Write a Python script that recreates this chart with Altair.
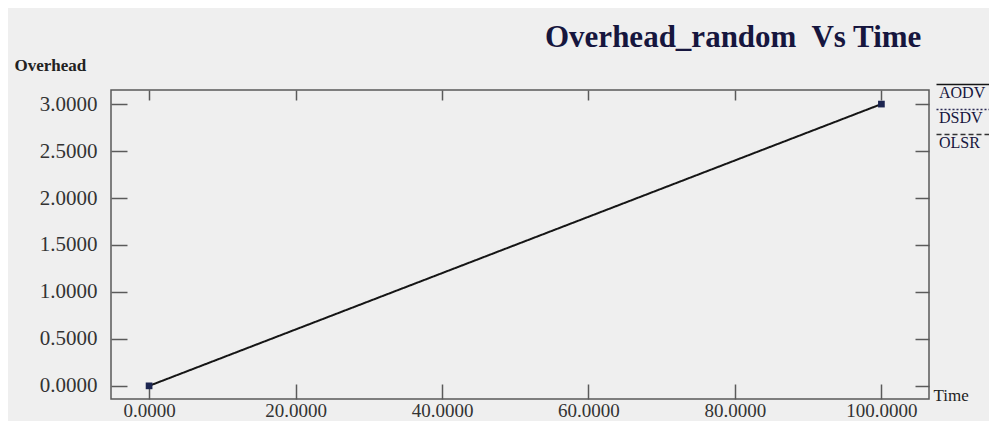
import altair as alt
import pandas as pd

# ---- data ----
times = [0.0, 100.0]
overhead = [0.0, 3.0]
series = ["AODV", "AODV"]
protocols = ["AODV", "DSDV", "OLSR"]
x_ticks = [0, 20, 40, 60, 80, 100]
y_ticks = [0.0, 0.5, 1.0, 1.5, 2.0, 2.5, 3.0]

df = pd.DataFrame({"Time": times, "Overhead": overhead, "Protocol": series})

SERIF = "Liberation Serif"
INK = "#16163e"
FRAME = "#5a5a5a"

xscale = alt.Scale(domain=[-5.2, 106.5], nice=False, zero=False)
yscale = alt.Scale(domain=[-0.14, 3.15], nice=False, zero=False)
color_scale = alt.Scale(domain=protocols, range=["#151515", "#2b2b55", "#333333"])
dash_scale = alt.Scale(domain=protocols, range=[[1, 0], [2, 2], [5, 3]])

x_bottom = alt.Axis(
    orient="bottom", values=x_ticks, format=".4f", offset=-15, tickSize=15,
    domain=False, grid=False, labelPadding=2, labelFont=SERIF, labelFontSize=19,
    labelColor="#333333", tickColor=FRAME, tickWidth=1.5,
    title="Time", titleX=822, titleY=16, titleAlign="left", titleBaseline="alphabetic",
    titleFont=SERIF, titleFontSize=17, titleFontWeight="normal", titleColor="#222222",
)
y_left = alt.Axis(
    orient="left", values=y_ticks, format=".4f", offset=-16, tickSize=16,
    domain=False, grid=False, labelPadding=14, labelFont=SERIF, labelFontSize=21,
    labelColor="#333333", tickColor=FRAME, tickWidth=1.5,
    title="Overhead", titleAngle=0, titleX=-113, titleY=-20, titleAlign="left",
    titleBaseline="alphabetic", titleFont=SERIF, titleFontSize=17,
    titleFontWeight="bold", titleColor="#222222",
)
x_top = alt.Axis(
    orient="top", values=x_ticks, offset=-10, tickSize=10, domain=False, grid=False,
    labels=False, title=None, tickColor=FRAME, tickWidth=1.5,
)
y_right = alt.Axis(
    orient="right", values=y_ticks, offset=-14, tickSize=14, domain=False, grid=False,
    labels=False, title=None, tickColor=FRAME, tickWidth=1.5,
)

legend = alt.Legend(
    title=None, orient="none", legendX=811, legendY=-14,
    symbolType="M0.8,0H8.8", symbolSize=225, symbolStrokeWidth=1.5,
    labelFont=SERIF, labelFontSize=16, labelColor=INK, labelBaseline="top",
    labelOffset=0, rowPadding=0,
)

line = alt.Chart(df).mark_line(strokeWidth=2).encode(
    x=alt.X("Time:Q", scale=xscale, axis=x_bottom),
    y=alt.Y("Overhead:Q", scale=yscale, axis=y_left),
    color=alt.Color("Protocol:N", scale=color_scale, legend=legend),
    strokeDash=alt.StrokeDash("Protocol:N", scale=dash_scale, legend=legend),
)

points = alt.Chart(df).mark_point(shape="square", filled=True, size=45, opacity=1, color="#1c2550").encode(
    x=alt.X("Time:Q", scale=xscale, axis=x_top),
    y=alt.Y("Overhead:Q", scale=yscale, axis=y_right),
)

chart = (
    alt.layer(line, points)
    .resolve_axis(x="independent", y="independent")
    .properties(
        width=818, height=309,
        autosize=alt.AutoSizeParams(type="none"),
        padding={"left": 103, "top": 82, "right": 60, "bottom": 22},
        background="#efefef",
        title=alt.TitleParams(
            "Overhead_random\u00a0 Vs Time", anchor="start", frame="group", dx=434, offset=2,
            font=SERIF, fontSize=31, fontWeight="bold", color=INK,
        ),
    )
    .configure_view(stroke=FRAME, strokeWidth=1.5)
)

chart.save("out.html", embed_options={"renderer": "svg", "actions": False})
